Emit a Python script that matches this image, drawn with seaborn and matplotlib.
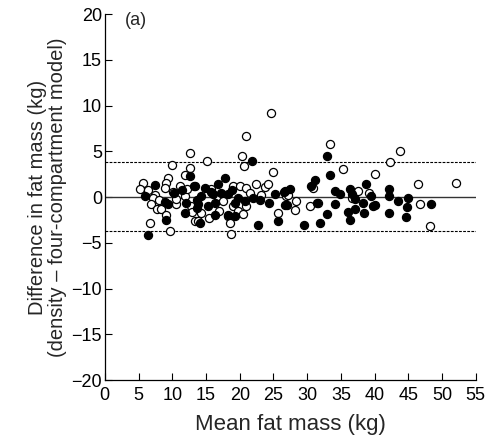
import matplotlib
matplotlib.use("Agg")
import matplotlib.pyplot as plt
import seaborn as sns
import pandas as pd

# Open circles (group 1)
open_x = [12.7, 9.9, 12.6, 11.9, 9.4, 5.6, 9.1, 5.2, 6.4, 7.4, 7.2, 9.0, 10.1, 11.1, 10.6,
          11.9, 6.9, 7.7, 8.4, 9.1, 12.8, 13.3, 6.7, 9.6, 11.1, 8.0, 10.5, 12.2, 13.0,
          24.7, 20.9, 15.1, 20.3, 20.6, 24.9, 19.0, 20.0, 21.0, 22.4, 23.7, 24.2, 23.2,
          16.8, 19.0, 21.0, 19.8, 20.5, 14.3, 17.0, 15.4, 18.3, 18.5, 25.7, 26.9, 18.7,
          13.8, 21.5, 17.5, 15.8,
          33.4, 35.3, 40.1, 27.2, 28.4, 28.2, 30.4, 30.9, 31.6, 36.6, 37.6, 39.1,
          43.7, 42.3, 46.5, 52.1, 46.7, 48.2]
open_y = [4.8, 3.5, 3.2, 2.4, 2.1, 1.5, 1.5, 0.9, 0.8, 0.25, -0.1, 1.0, 0.6, 0.3, -0.8,
          0.1, -0.8, -1.35, -1.35, -1.9, -1.0, -2.6, -2.8, -3.7, 1.2, -0.3, -0.2, 0.9, -1.6,
          9.2, 6.7, 4.0, 4.5, 3.4, 2.7, 1.2, 1.2, 1.0, 1.4, 1.1, 1.4, 0.2,
          0.1, -1.0, -1.0, -1.5, -1.8, -1.7, -1.5, -2.3, -2.1, -2.8, -1.7, 0.1, -4.0,
          -2.6, 0.5, -0.4, 0.9,
          5.8, 3.1, 2.5, 0.2, -0.4, -1.4, -1.0, 1.0, -0.6, -0.1, 0.7, 0.4,
          5.05, 3.85, 1.4, 1.6, -0.7, -3.2]

# Filled circles (group 2)
filled_x = [7.4, 12.6, 13.2, 5.9, 8.9, 9.4, 11.4, 12.1, 13.6, 9.1, 11.9, 6.4, 13.6, 10.2,
            21.8, 17.8, 16.8, 14.8, 13.3, 16.1, 17.3, 18.3, 19.8, 22.0, 25.2, 26.5, 13.8,
            15.3, 16.3, 14.3, 24.4, 26.7, 18.3, 19.3, 22.7, 25.7, 14.1, 16.3, 20.8, 19.3,
            15.8, 18.9, 23.0,
            33.0, 33.4, 31.1, 30.5, 27.4, 26.7, 27.0, 31.4, 34.1, 34.9, 34.1, 36.3, 36.6,
            37.1, 38.8, 39.5, 38.3, 39.8, 38.5, 36.1, 37.1, 36.3, 32.9, 31.9, 29.6,
            42.1, 42.1, 43.5, 45.0, 44.8, 48.3, 42.1, 44.7, 40.0]
filled_y = [1.3, 2.3, 1.2, 0.15, -0.5, -0.8, 0.8, -0.6, -0.3, -2.45, -1.7, -4.1, -1.2, 0.4,
            4.0, 2.05, 1.4, 1.0, 1.2, 0.3, 0.5, 0.3, -0.1, -0.1, 0.3, 0.6, -0.7,
            -1.0, -0.6, 0.1, -0.6, -0.9, -1.9, -2.1, -3.0, -2.6, -2.8, -1.9, -0.4, -0.6,
            0.6, 0.8, -0.3,
            4.5, 2.4, 1.9, 1.2, 0.85, 0.7, -0.9, -0.6, 0.7, 0.3, -0.8, 0.9, 0.3,
            -0.25, 1.4, 0.1, -0.6, -1.0, -1.7, -1.65, -1.35, -2.5, -1.8, -2.8, -3.1,
            0.85, 0.1, -0.4, -0.1, -1.1, -0.7, -1.7, -2.2, -0.9]

mean_diff = 0.0
upper_loa = 3.8
lower_loa = -3.75

x_ticks = [0, 5, 10, 15, 20, 25, 30, 35, 40, 45, 50, 55]
y_ticks = [-20, -15, -10, -5, 0, 5, 10, 15, 20]
y_ticklabels = ["\u221220", "\u221215", "\u221210", "\u22125", "0", "5", "10", "15", "20"]

df_open = pd.DataFrame({"x": open_x, "y": open_y})
df_filled = pd.DataFrame({"x": filled_x, "y": filled_y})

sns.set_style("ticks")
plt.rcParams["font.family"] = ["Liberation Sans", "DejaVu Sans"]

fig = plt.figure(figsize=(4.92, 4.44), dpi=100)
ax = fig.add_axes([0.213, 0.144, 0.754, 0.824])

ax.axhline(mean_diff, color="#333333", lw=1.0, zorder=1)
ax.axhline(upper_loa, color="black", lw=0.8, ls=(0, (2.5, 1.2)), zorder=1)
ax.axhline(lower_loa, color="black", lw=0.8, ls=(0, (2.5, 1.2)), zorder=1)

sns.scatterplot(data=df_open, x="x", y="y", ax=ax, s=34, facecolor="white",
                edgecolor="black", linewidth=0.9, zorder=3)
sns.scatterplot(data=df_filled, x="x", y="y", ax=ax, s=34, color="black",
                edgecolor="black", linewidth=0.9, zorder=3)

ax.set_xlim(0, 55)
ax.set_ylim(-20, 20)
ax.set_xticks(x_ticks)
ax.set_xticklabels([str(t) for t in x_ticks])
ax.set_yticks(y_ticks)
ax.set_yticklabels(y_ticklabels)
ax.tick_params(direction="in", length=5, width=0.8, labelsize=13, colors="black")
ax.tick_params(axis="x", pad=5)
ax.tick_params(axis="y", pad=2)
for s in ["top", "right"]:
    ax.spines[s].set_visible(False)
for s in ["left", "bottom"]:
    ax.spines[s].set_linewidth(0.9)
    ax.spines[s].set_color("black")

ax.set_xlabel("Mean fat mass (kg)", fontsize=16, labelpad=7)
ax.set_ylabel("Difference in fat mass (kg)\n(density \u2013 four-compartment model)",
              fontsize=14.5, labelpad=3, linespacing=1.1)
ax.text(3.0, 19.3, "(a)", fontsize=13, va="center", ha="left")

fig.savefig("out.png", dpi=100)
